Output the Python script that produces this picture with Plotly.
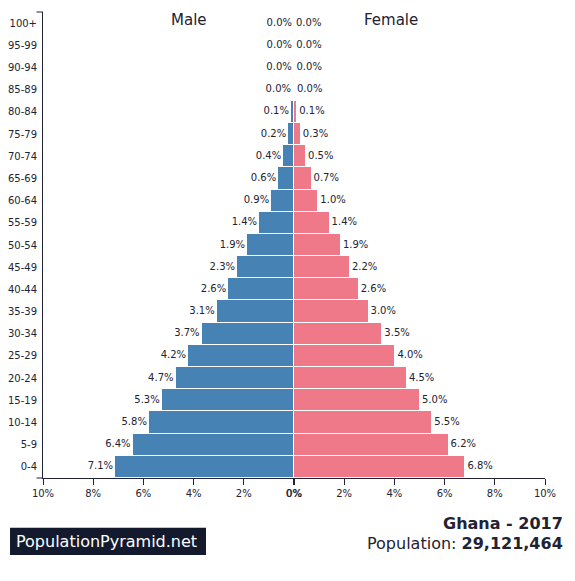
import plotly.graph_objects as go

# age groups from the top of the pyramid down
age_groups = ['100+', '95-99', '90-94', '85-89', '80-84', '75-79', '70-74', '65-69', '60-64', '55-59',
              '50-54', '45-49', '40-44', '35-39', '30-34', '25-29', '20-24', '15-19', '10-14', '5-9', '0-4']
male_pct = [0.00, 0.00, 0.01, 0.04, 0.12, 0.23, 0.43, 0.63, 0.91, 1.39,
            1.87, 2.27, 2.62, 3.08, 3.68, 4.22, 4.72, 5.27, 5.78, 6.43, 7.13]
female_pct = [0.00, 0.01, 0.02, 0.04, 0.13, 0.27, 0.48, 0.70, 0.97, 1.42,
              1.87, 2.23, 2.58, 2.97, 3.52, 4.04, 4.50, 5.02, 5.51, 6.16, 6.83]
tick_vals = [-10, -8, -6, -4, -2, -0.01, 0.01, 2, 4, 6, 8, 10]
tick_text = ['10%', '8%', '6%', '4%', '2%', '0%', '0%', '2%', '4%', '6%', '8%', '10%']

male_color = '#4682b4'
female_color = '#ef7988'
text_color = '#222233'
font = 'DejaVu Sans'

male_neg = [-v for v in male_pct]
# thin space keeps the label a few px off the bar end
male_text = [f'{v:.1f}%\u2009' for v in male_pct]
female_text = [f'\u2009{v:.1f}%' for v in female_pct]

fig = go.Figure()
fig.add_trace(go.Bar(y=age_groups, x=male_neg, orientation='h', marker=dict(color=male_color, line=dict(color='white', width=1))))
fig.add_trace(go.Bar(y=age_groups, x=female_pct, orientation='h', marker=dict(color=female_color, line=dict(color='white', width=1))))

# value labels next to bar ends
fig.add_trace(go.Scatter(y=age_groups, x=male_neg, mode='text', text=male_text, textposition='middle left',
                         textfont=dict(size=10, color=text_color, family=font)))
fig.add_trace(go.Scatter(y=age_groups, x=female_pct, mode='text', text=female_text, textposition='middle right',
                         textfont=dict(size=10, color=text_color, family=font)))

fig.update_layout(
    width=575, height=581,
    margin=dict(l=43, r=30, t=12, b=103),
    plot_bgcolor='white', paper_bgcolor='white',
    barmode='overlay', bargap=0,
    showlegend=False,
    font=dict(family=font, color=text_color),
)

fig.update_xaxes(range=[-10, 10], tickvals=tick_vals, ticktext=tick_text, showgrid=False, zeroline=False,
                 showline=True, linecolor=text_color, linewidth=1, ticks='outside', ticklen=6, tickcolor=text_color,
                 tickangle=0, automargin=False, tickfont=dict(size=10, color=text_color, family=font))
fig.update_yaxes(categoryorder='array', categoryarray=age_groups[::-1], range=[-0.5, 20.5], showgrid=False,
                 zeroline=False, showline=True, linecolor=text_color, linewidth=1, ticks='', ticklabelstandoff=3,
                 automargin=False, tickfont=dict(size=10, color=text_color, family=font))

# small axis end marks
fig.add_shape(type='line', xref='paper', yref='paper', x0=-0.013, x1=0, y0=1, y1=1, line=dict(color=text_color, width=1))
fig.add_shape(type='line', xref='paper', yref='paper', x0=-0.013, x1=0, y0=0, y1=0, line=dict(color=text_color, width=1))

fig.add_annotation(text='Male', xref='paper', yref='paper', x=0.25, y=1, yanchor='top', yshift=3, showarrow=False,
                   font=dict(size=15, color=text_color, family=font))
fig.add_annotation(text='Female', xref='paper', yref='paper', x=0.75, y=1, yanchor='top', yshift=3, showarrow=False,
                   font=dict(size=15, color=text_color, family=font))

fig.add_annotation(text='<b>Ghana - 2017</b>', xref='paper', yref='paper', x=1.04, y=-0.0987, xanchor='right',
                   yanchor='middle', showarrow=False, font=dict(size=16, color=text_color, family=font))
fig.add_annotation(text='Population: <b>29,121,464</b>', xref='paper', yref='paper', x=1.04, y=-0.1395, xanchor='right',
                   yanchor='middle', showarrow=False, font=dict(size=16, color=text_color, family=font))

# watermark box
fig.add_shape(type='rect', xref='paper', yref='paper', x0=-0.0657, x1=0.3247, y0=-0.165, y1=-0.107,
              fillcolor='#141a2e', line=dict(width=0))
fig.add_annotation(text='PopulationPyramid.net', xref='paper', yref='paper', x=-0.057, y=-0.136, xanchor='left',
                   yanchor='middle', showarrow=False, font=dict(size=16, color='white', family=font))

# page body has a default 8px margin, drop it so the figure sits at the window corner
fig.write_html('out.html', config={'displayModeBar': False}, post_script="document.body.style.margin='0';")
